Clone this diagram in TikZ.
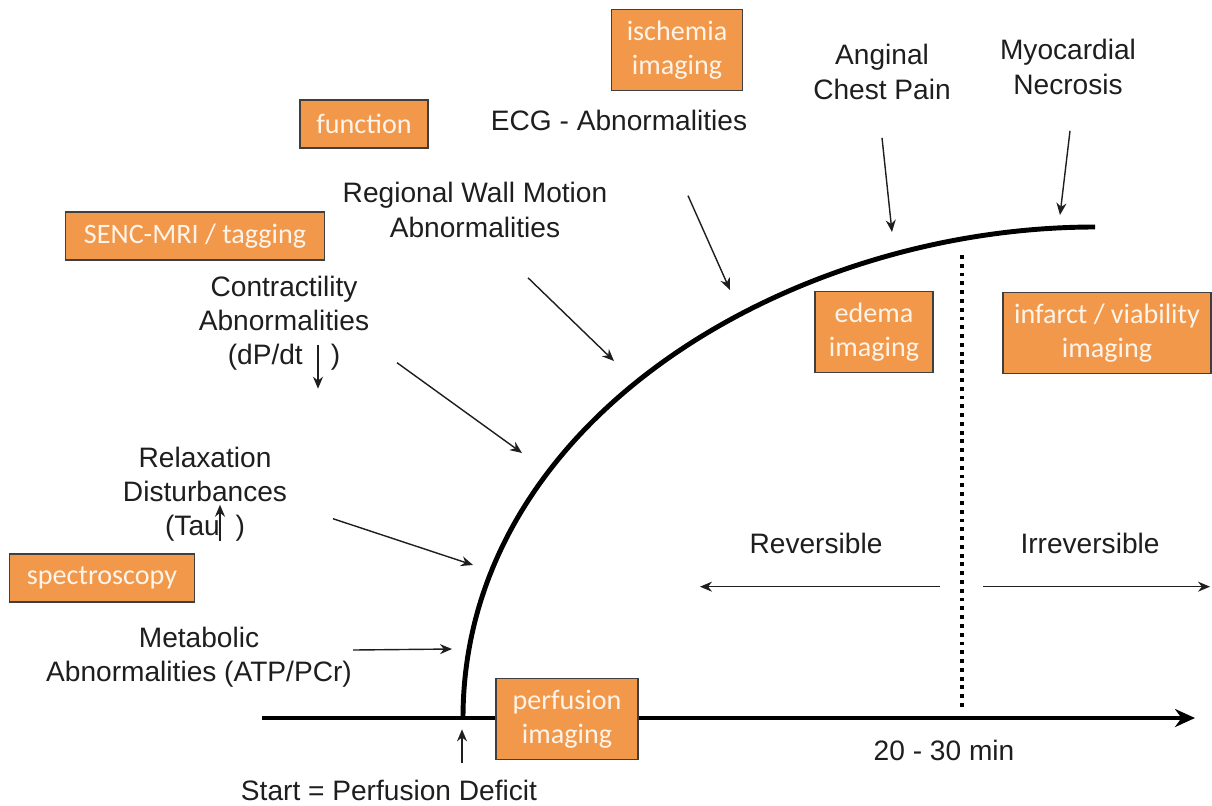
\documentclass[tikz,border=0pt]{standalone}
\usepackage{fontspec}
\setmainfont{Liberation Sans}
\newfontfamily\boxfont{Carlito}
\usepackage{xcolor}
\definecolor{cBox}{HTML}{F2984A}
\definecolor{cEdge}{HTML}{3F3F3F}
\definecolor{cInk}{HTML}{1E1E1E}
\definecolor{cBoxText}{HTML}{FFF4EA}
\usetikzlibrary{arrows.meta}
\tikzset{
  node-box/.style={draw=cEdge,line width=0.8pt,fill=cBox,text=cBoxText,
    align=center,inner sep=0pt,font=\boxfont\fontsize{16pt}{19.5pt}\selectfont},
  node-box-1/.style={node-box,minimum height=0.96cm},
  node-box-2/.style={node-box,minimum height=1.62cm},
  node-label/.style={text=cInk,align=center,inner sep=0pt,
    font=\fontsize{16pt}{19.5pt}\selectfont},
  arrow-pointer/.style={-{Stealth[length=2.4mm,width=2mm]},line width=0.8pt,draw=cInk},
  arrow-axis/.style={-{Stealth[length=4mm,width=3.6mm]},line width=2.8pt,draw=black},
  line-course/.style={line width=2.8pt,draw=black},
  line-border/.style={line width=2pt,draw=black,dash pattern=on 2.2pt off 2.8pt},
}
\begin{document}
\begin{tikzpicture}[x=0.02cm,y=-0.02cm]
  \useasboundingbox (0,0) rectangle (1212,805);
  % time axis and ischemic cascade
  \coordinate (axis-start) at (262,718);
  \coordinate (axis-end)   at (1195,718);
  \coordinate (onset)      at (463,718);
  \coordinate (plateau)    at (1095,227);
  \coordinate (border-top) at (962,255);
  \coordinate (border-bot) at (962,708);
  \draw[arrow-axis]  (axis-start) -- (axis-end);
  \draw[line-course] (onset) .. controls (463,420) and (790,227) .. (plateau);
  \draw[line-border] (border-top) -- (border-bot);
  % tips on the curve
  \coordinate (tip-necrosis)  at (1060,215);
  \coordinate (tip-chest)     at (892,232);
  \coordinate (tip-ecg)       at (730,290);
  \coordinate (tip-wall)      at (614,361);
  \coordinate (tip-contract)  at (522,453);
  \coordinate (tip-relax)     at (473,565);
  \coordinate (tip-metabolic) at (452,649);
  % imaging boxes
  \node[node-box-2,minimum width=2.62cm] (ischemia) at (677,50)  {ischemia\\imaging};
  \node[node-box-1,minimum width=2.56cm] (function) at (364,124) {function};
  \node[node-box-1,minimum width=5.18cm] (senc)     at (195,236) {SENC-MRI / tagging};
  \node[node-box-2,minimum width=2.36cm] (edema)    at (874,332) {edema\\imaging};
  \node[node-box-2,minimum width=4.16cm] (infarct)  at (1107,333) {infarct / viability\\imaging};
  \node[node-box-1,minimum width=3.70cm] (spectro)  at (102,578) {spectroscopy};
  \node[node-box-2,minimum width=2.84cm] (perfusion) at (567,719) {perfusion\\imaging};
  % events
  \node[node-label] (necrosis) at (1068,67)  {Myocardial\\Necrosis};
  \node[node-label] (chest)    at (882,72)   {Anginal\\Chest Pain};
  \node[node-label] (ecg)      at (619,120)  {ECG - Abnormalities};
  \node[node-label] (wall)     at (475,210)  {Regional Wall Motion\\Abnormalities};
  \node[node-label] (contract) at (284,323)  {Contractility\\Abnormalities\\(dP/dt\hspace{16pt})};
  \node[node-label] (relax)    at (205,494)  {Relaxation\\Disturbances\\(Tau\hspace{9pt})};
  \node[node-label] (metabolic) at (199,657) {Metabolic\\Abnormalities (ATP/PCr)};
  \node[node-label] (start)    at (389,790)  {Start = Perfusion Deficit};
  \node[node-label] (reversible)   at (816,543)  {Reversible};
  \node[node-label] (irreversible) at (1090,543) {Irreversible};
  \node[node-label] (duration) at (944,750)  {20 - 30 min};
  % pointers
  \draw[arrow-pointer] (necrosis.south) ++(2,36)   -- (tip-necrosis);
  \draw[arrow-pointer] (chest.south)    ++(0,38)   -- (tip-chest);
  \draw[arrow-pointer] (ecg.south)      ++(69,65)  -- (tip-ecg);
  \draw[arrow-pointer] (wall.south)     ++(53,40)  -- (tip-wall);
  \draw[arrow-pointer] (contract.south) ++(113,-8) -- (tip-contract);
  \draw[arrow-pointer] (relax.south)    ++(128,-23) -- (tip-relax);
  \draw[arrow-pointer] (metabolic.east) ++(1,-7)   -- (tip-metabolic);
  \draw[arrow-pointer] (start.north)    ++(73,-16) -- ++(0,-34);
  \draw[arrow-pointer] (reversible.south)   ++(124,33) -- ++(-240,0);
  \draw[arrow-pointer] (irreversible.south) ++(-107,33) -- ++(227,0);
  % arrows inside the labels
  \draw[arrow-pointer] (contract.south) ++(34,-26) -- ++(0,44);
  \draw[arrow-pointer] (relax.south)    ++(15,-1)  -- ++(0,-36);
\end{tikzpicture}
\end{document}
